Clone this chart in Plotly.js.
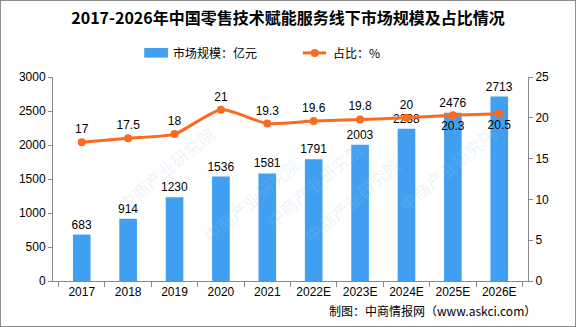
<!DOCTYPE html>
<html><head><meta charset="utf-8">
<script src="https://cdn.plot.ly/plotly-3.0.1.min.js"></script>
<style>
html,body{margin:0;padding:0;background:#fff;}
#wrap{width:576px;height:327px;box-sizing:border-box;border:1px solid #8c8c8c;overflow:hidden;}
#chart{width:574px;height:325px;}
</style></head>
<body><div id="wrap"><div id="chart"></div></div>
<script>
const categories = ["2017","2018","2019","2020","2021","2022E","2023E","2024E","2025E","2026E"];
const marketSize = [683, 914, 1230, 1536, 1581, 1791, 2003, 2238, 2476, 2713];
const share = [17, 17.5, 18, 21, 19.3, 19.6, 19.8, 20, 20.3, 20.5];
const shareLabelPos = ["top center","top center","top center","top center","top center","top center","top center","top center","bottom center","bottom center"];
const legendLabels = ["市场规模：亿元", "占比：%"];

const font = "Liberation Sans, Arial, Noto Sans CJK SC, sans-serif";
const cjk = "Noto Sans CJK SC, sans-serif";
const blue = "#409ff0", orange = "#fd6a1f";

const bar = {
  type: "bar", x: categories, y: marketSize, name: legendLabels[0],
  marker: {color: blue}, width: 0.38,
  text: marketSize.map(String), textposition: "outside", cliponaxis: false, constraintext: "none",
  textfont: {family: font, size: 12, color: "#000"}, yaxis: "y"
};
const line = {
  type: "scatter", mode: "lines+markers+text", x: categories, y: share, name: legendLabels[1],
  line: {color: orange, width: 3, shape: "spline", smoothing: 0.6},
  marker: {color: orange, size: 8},
  text: share.map(String), textposition: shareLabelPos, cliponaxis: false,
  textfont: {family: font, size: 12, color: "#000"}, yaxis: "y2"
};

const wm = [];
const wmPos = [[0.12,0.55],[0.55,0.72],[0.95,0.55],[0.3,0.15],[0.75,0.15]];
wmPos.forEach(p => wm.push({xref:"paper", yref:"paper", x:p[0], y:p[1], text:"中商产业研究院", showarrow:false,
  textangle:-40, font:{family:cjk, size:17, color:"rgba(160,200,232,0.22)"}}));

const layout = {
  width: 574, height: 325,
  margin: {l: 52, r: 47, t: 76, b: 45},
  paper_bgcolor: "#fff", plot_bgcolor: "rgba(0,0,0,0)",
  title: {text: "<b>2017-2026年中国零售技术赋能服务线下市场规模及占比情况</b>", x: 0.5, xanchor: "center", y: 0.945, yanchor: "middle",
    font: {family: cjk, size: 16, color: "#000"}},
  showlegend: false,
  xaxis: {type: "category", showline: true, linecolor: "#888", linewidth: 1,
    ticks: "outside", tickson: "boundaries", ticklen: 5, tickcolor: "#888",
    tickfont: {family: font, size: 12, color: "#000"}, showgrid: false, zeroline: false},
  yaxis: {range: [0, 3000], dtick: 500, showline: true, linecolor: "#888", ticks: "outside",
    ticklen: 4, tickcolor: "#888", showgrid: false, zeroline: false,
    tickfont: {family: font, size: 12, color: "#000"}},
  yaxis2: {range: [0, 25], dtick: 5, overlaying: "y", side: "right", showline: true, linecolor: "#888",
    ticks: "outside", ticklen: 4, tickcolor: "#888", showgrid: false, zeroline: false,
    tickfont: {family: font, size: 12, color: "#000"}},
  shapes: [
    {type: "rect", xref: "paper", yref: "paper", x0: 0.192, x1: 0.242, y0: 1.095, y1: 1.142, fillcolor: blue, line: {width: 0}},
    {type: "line", xref: "paper", yref: "paper", x0: 0.526, x1: 0.575, y0: 1.118, y1: 1.118, line: {color: orange, width: 3}},
    {type: "circle", xref: "paper", yref: "paper", xsizemode: "pixel", ysizemode: "pixel", xanchor: 0.551, yanchor: 1.118,
     x0: -4, x1: 4, y0: -4, y1: 4, fillcolor: orange, line: {width: 0}}
  ],
  annotations: wm.concat([
    {xref: "paper", yref: "paper", x: 0.248, xanchor: "left", y: 1.118, yanchor: "middle", showarrow: false,
     text: legendLabels[0], font: {family: cjk, size: 12, color: "#000"}},
    {xref: "paper", yref: "paper", x: 0.585, xanchor: "left", y: 1.118, yanchor: "middle", showarrow: false,
     text: legendLabels[1], font: {family: cjk, size: 12, color: "#000"}},
    {xref: "paper", yref: "paper", x: 1.02, xanchor: "right", y: -0.145, yanchor: "middle", showarrow: false,
     text: "制图：中商情报网（www.askci.com）", font: {family: cjk, size: 12, color: "#000"}}
  ])
};
Plotly.newPlot("chart", [bar, line], layout, {displayModeBar: false, staticPlot: true});
</script></body></html>
